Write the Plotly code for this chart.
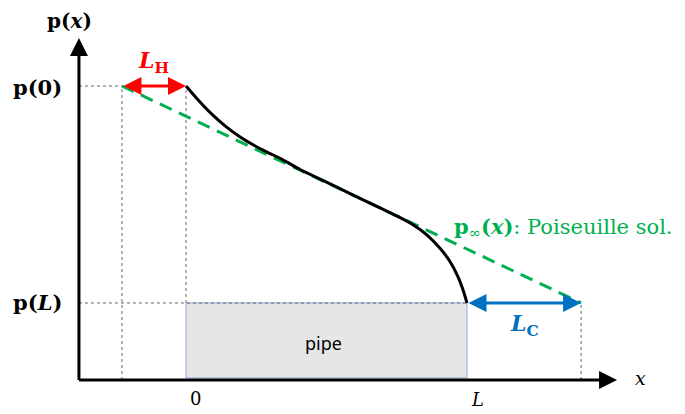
import plotly.graph_objects as go

# Schematic values (pipe length L = 1, p normalised so p(0) = 1)
x_curve = [0.0, 0.04, 0.09, 0.14, 0.19, 0.24, 0.29, 0.34, 0.406, 0.50, 0.584,
           0.70, 0.762, 0.808, 0.858, 0.904, 0.940, 0.968, 0.986, 1.0]
p_curve = [1.0, 0.956, 0.906, 0.8635, 0.8285, 0.7995, 0.7745, 0.7515, 0.716, 0.673, 0.634,
           0.581, 0.552, 0.528, 0.493, 0.448, 0.402, 0.351, 0.306, 0.262]
p0 = 1.0
pL = 0.262
L = 1.0
LH = 0.228
LC = 0.406
x_poiseuille = [-LH, L + LC]
p_poiseuille = [p0, pL]

axis_x0 = -0.381
axis_y0 = 0.0
x_tip = 1.534
y_tip = 1.163

green = '#00b050'
red = '#ff0000'
blue = '#0070c0'
serif = 'DejaVu Serif'

fig = go.Figure()

# Pipe box
fig.add_shape(type='rect', x0=0, x1=L, y0=axis_y0 + 0.007, y1=pL,
              fillcolor='#e6e6e6', line=dict(color='#8eaadb', width=1), layer='below')

# Dotted guide lines
dot = dict(color='#666666', width=1, dash='dot')
fig.add_shape(type='line', x0=axis_x0, x1=-LH, y0=p0, y1=p0, line=dot)
fig.add_shape(type='line', x0=-LH, x1=-LH, y0=axis_y0, y1=p0, line=dot)
fig.add_shape(type='line', x0=0, x1=0, y0=pL, y1=p0, line=dot)
fig.add_shape(type='line', x0=axis_x0, x1=L, y0=pL, y1=pL, line=dot)
fig.add_shape(type='line', x0=L + LC, x1=L + LC, y0=axis_y0, y1=pL, line=dot)

# Poiseuille solution (dashed) and actual pressure
fig.add_trace(go.Scatter(x=x_poiseuille, y=p_poiseuille, mode='lines',
                         line=dict(color=green, width=3, dash='13px,8px'), hoverinfo='skip'))
fig.add_trace(go.Scatter(x=x_curve, y=p_curve, mode='lines',
                         line=dict(color='black', width=3, shape='spline', smoothing=0.6),
                         hoverinfo='skip'))

# Axes with arrows
fig.add_annotation(x=axis_x0, y=y_tip, ax=axis_x0, ay=axis_y0 - 0.005, xref='x', yref='y',
                   axref='x', ayref='y', showarrow=True, arrowhead=2, arrowsize=1.2,
                   arrowwidth=3, arrowcolor='black', text='')
fig.add_annotation(x=x_tip, y=axis_y0, ax=axis_x0 - 0.005, ay=axis_y0, xref='x', yref='y',
                   axref='x', ayref='y', showarrow=True, arrowhead=2, arrowsize=1.2,
                   arrowwidth=3, arrowcolor='black', text='')

# Entrance / exit lengths
fig.add_annotation(x=0, y=p0, ax=-LH, ay=p0, xref='x', yref='y', axref='x', ayref='y',
                   showarrow=True, arrowhead=2, startarrowhead=2, arrowside='end+start',
                   arrowsize=1.2, startarrowsize=1.2, arrowwidth=3, arrowcolor=red, text='')
fig.add_annotation(x=L + LC, y=pL, ax=L, ay=pL, xref='x', yref='y', axref='x', ayref='y',
                   showarrow=True, arrowhead=2, startarrowhead=2, arrowside='end+start',
                   arrowsize=1.2, startarrowsize=1.2, arrowwidth=3, arrowcolor=blue, text='')


def label(x, y, text, size=20, color='black', family=serif, xanchor='center'):
    fig.add_annotation(x=x, y=y, xref='x', yref='y', text=text, showarrow=False,
                       xanchor=xanchor, yanchor='middle', borderpad=0,
                       font=dict(family=family, size=size, color=color))


label(-LH / 2, p0 + 0.082, '<b><i>L</i><sub>H</sub></b>', size=22, color=red)
label(L + LC / 2, pL - 0.075, '<b><i>L</i><sub>C</sub></b>', size=22, color=blue)
label(-0.413, 1.222, '<b>p(<i>x</i>)</b>', size=20)
label(-0.530, p0 - 0.005, '<b>p(0)</b>', size=21)
label(-0.530, pL + 0.002, '<b>p(<i>L</i>)</b>', size=21)
label(0.035, -0.062, '0', size=18)
label(L + 0.038, -0.068, '<i>L</i>', size=18)
label(1.618, 0.008, '<i>x</i>', size=19)
label(0.49, 0.125, 'pipe', size=18, family='Noto Sans')
label(0.95, 0.52, '<b>p</b><sub>∞</sub><b>(<i>x</i>)</b>: Poiseuille sol.',
      size=21, color=green, xanchor='left')

# page body adds an 8px offset, so the ranges are shifted to compensate
fig.update_layout(
    width=685, height=414,
    margin=dict(l=0, r=0, t=0, b=0),
    paper_bgcolor='white', plot_bgcolor='white',
    showlegend=False,
    xaxis=dict(range=[-0.6335, 1.8043], visible=False, fixedrange=True),
    yaxis=dict(range=[-0.1429, 1.2653], visible=False, fixedrange=True),
)

fig.write_html("out.html")
